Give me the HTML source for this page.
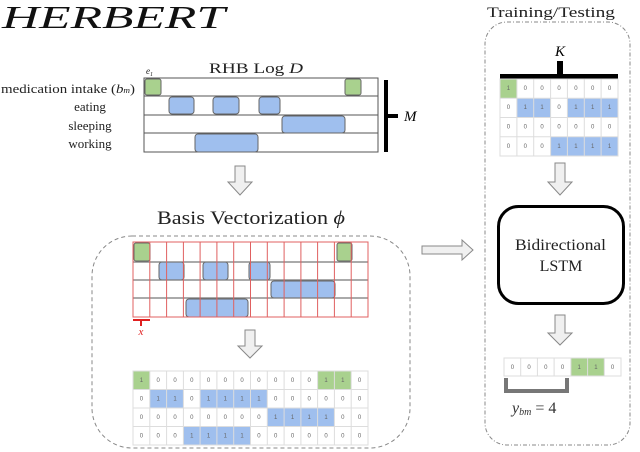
<!DOCTYPE html>
<html><head><meta charset="utf-8"><style>html,body{margin:0;padding:0;background:#fff}svg{display:block}</style></head>
<body>
<svg width="640" height="452" viewBox="0 0 640 452" xmlns="http://www.w3.org/2000/svg" font-family="Liberation Serif, serif">
<text x="2" y="28" font-size="32" font-style="italic" fill="#111" textLength="223" lengthAdjust="spacingAndGlyphs">HERBERT</text>
<text x="209" y="73" font-size="15" fill="#222" textLength="94" lengthAdjust="spacingAndGlyphs">RHB Log <tspan font-style="italic">D</tspan></text>
<text x="146" y="74" font-size="9" font-style="italic" fill="#222">e<tspan font-size="6" dy="2">1</tspan></text>
<g font-size="13" fill="#222">
<text x="1" y="93" textLength="134" lengthAdjust="spacingAndGlyphs">medication intake (<tspan font-style="italic">b<tspan font-size="8">m</tspan></tspan>)</text>
<text x="90" y="111" text-anchor="middle">eating</text>
<text x="90" y="130" text-anchor="middle">sleeping</text>
<text x="90" y="148" text-anchor="middle">working</text>
</g>
<g stroke="#555" stroke-width="1" fill="#fff">
<rect x="144" y="78" width="234" height="18"/>
<rect x="144" y="96" width="234" height="19"/>
<rect x="144" y="115" width="234" height="18"/>
<rect x="144" y="133" width="234" height="19"/>
</g>
<g stroke="#666" stroke-width="1">
<rect x="145" y="79" width="16" height="16" rx="2" fill="#a9d18e"/>
<rect x="345" y="79" width="16" height="16" rx="2" fill="#a9d18e"/>
<rect x="169" y="97" width="25" height="17" rx="3" fill="#9fbfee"/>
<rect x="213" y="97" width="26" height="17" rx="3" fill="#9fbfee"/>
<rect x="259" y="97" width="21" height="17" rx="3" fill="#9fbfee"/>
<rect x="282" y="116" width="63" height="17" rx="3" fill="#9fbfee"/>
<rect x="195" y="134" width="63" height="18" rx="3" fill="#9fbfee"/>
</g>
<rect x="384" y="80" width="4" height="72" fill="#000"/>
<rect x="384" y="114" width="14" height="4" fill="#000"/>
<text x="404" y="121" font-size="15" font-style="italic">M</text>
<g fill="#f0f0f0" stroke="#888" stroke-width="1">
<path d="M235 166 H245 V182 H252 L240 195 L228 182 H235 Z"/>
<path d="M245 330 H255 V346 H262 L250 358 L238 346 H245 Z"/>
<path d="M555 163 H565 V182 H572 L560 195 L548 182 H555 Z"/>
<path d="M555 315 H565 V333 H572 L560 345 L548 333 H555 Z"/>
<path d="M422 246 H462 V240 L473 250 L462 260 V254 H422 Z"/>
</g>
<text x="157" y="224" font-size="19" fill="#222" textLength="188" lengthAdjust="spacingAndGlyphs">Basis Vectorization <tspan font-style="italic">ϕ</tspan></text>
<rect x="92" y="236" width="318" height="212" rx="40" fill="none" stroke="#888" stroke-dasharray="4,3"/>
<rect x="133" y="242" width="235" height="75" fill="#fff"/>
<g stroke="#666" stroke-width="1">
<rect x="134" y="243" width="16" height="18" rx="2" fill="#a9d18e"/>
<rect x="337" y="243" width="15" height="18" rx="2" fill="#a9d18e"/>
<rect x="159" y="262" width="25" height="18" rx="3" fill="#9fbfee"/>
<rect x="203" y="262" width="25" height="18" rx="3" fill="#9fbfee"/>
<rect x="249" y="262" width="21" height="18" rx="3" fill="#9fbfee"/>
<rect x="271" y="281" width="64" height="17" rx="3" fill="#9fbfee"/>
<rect x="186" y="299" width="62" height="18" rx="3" fill="#9fbfee"/>
</g>
<g stroke="#777" stroke-width="1.2">
<line x1="133" y1="262" x2="368" y2="262"/><line x1="133" y1="280" x2="368" y2="280"/><line x1="133" y1="298" x2="368" y2="298"/>
</g>
<g stroke="#e06060" stroke-width="1" fill="none">
<rect x="133" y="242" width="235" height="75"/>
<path d="M149.8 242V317M166.6 242V317M183.4 242V317M200.1 242V317M216.9 242V317M233.7 242V317M250.5 242V317M267.3 242V317M284.1 242V317M300.9 242V317M317.6 242V317M334.4 242V317M351.2 242V317"/>
</g>
<path d="M133 320 H150 M141 320 V326" stroke="#e02020" stroke-width="2"/>
<text x="141" y="335" font-size="11" font-style="italic" fill="#e02020" text-anchor="middle">x</text>
<g fill="#a9d18e"><rect x="133" y="371" width="16.8" height="18.5"/><rect x="317.6" y="371" width="33.6" height="18.5"/></g>
<g fill="#9fbfee">
<rect x="149.8" y="389.5" width="33.6" height="18.5"/><rect x="200.1" y="389.5" width="67.2" height="18.5"/>
<rect x="267.3" y="408" width="67.2" height="18.5"/>
<rect x="183.4" y="426.5" width="67.2" height="18.5"/>
</g>
<g stroke="#ddd" stroke-width="1" fill="none">
<rect x="133" y="371" width="235" height="74"/>
<path d="M133 389.5H368M133 408H368M133 426.5H368M149.8 371V445M166.6 371V445M183.4 371V445M200.1 371V445M216.9 371V445M233.7 371V445M250.5 371V445M267.3 371V445M284.1 371V445M300.9 371V445M317.6 371V445M334.4 371V445M351.2 371V445"/>
</g>
<g font-size="6" fill="#666" text-anchor="middle" font-family="Liberation Sans, sans-serif">
<text y="382"><tspan x="141.4">1</tspan><tspan x="158.2">0</tspan><tspan x="175">0</tspan><tspan x="191.8">0</tspan><tspan x="208.5">0</tspan><tspan x="225.3">0</tspan><tspan x="242.1">0</tspan><tspan x="258.9">0</tspan><tspan x="275.7">0</tspan><tspan x="292.5">0</tspan><tspan x="309.2">0</tspan><tspan x="326">1</tspan><tspan x="342.8">1</tspan><tspan x="359.6">0</tspan></text>
<text y="400.5"><tspan x="141.4">0</tspan><tspan x="158.2">1</tspan><tspan x="175">1</tspan><tspan x="191.8">0</tspan><tspan x="208.5">1</tspan><tspan x="225.3">1</tspan><tspan x="242.1">1</tspan><tspan x="258.9">1</tspan><tspan x="275.7">0</tspan><tspan x="292.5">0</tspan><tspan x="309.2">0</tspan><tspan x="326">0</tspan><tspan x="342.8">0</tspan><tspan x="359.6">0</tspan></text>
<text y="419"><tspan x="141.4">0</tspan><tspan x="158.2">0</tspan><tspan x="175">0</tspan><tspan x="191.8">0</tspan><tspan x="208.5">0</tspan><tspan x="225.3">0</tspan><tspan x="242.1">0</tspan><tspan x="258.9">0</tspan><tspan x="275.7">1</tspan><tspan x="292.5">1</tspan><tspan x="309.2">1</tspan><tspan x="326">1</tspan><tspan x="342.8">0</tspan><tspan x="359.6">0</tspan></text>
<text y="437.5"><tspan x="141.4">0</tspan><tspan x="158.2">0</tspan><tspan x="175">0</tspan><tspan x="191.8">1</tspan><tspan x="208.5">1</tspan><tspan x="225.3">1</tspan><tspan x="242.1">1</tspan><tspan x="258.9">0</tspan><tspan x="275.7">0</tspan><tspan x="292.5">0</tspan><tspan x="309.2">0</tspan><tspan x="326">0</tspan><tspan x="342.8">0</tspan><tspan x="359.6">0</tspan></text>
</g>
<text x="487" y="17" font-size="15" fill="#222" textLength="128" lengthAdjust="spacingAndGlyphs">Training/Testing</text>
<rect x="485" y="22" width="145" height="423" rx="22" fill="none" stroke="#888" stroke-dasharray="4,2,1,2"/>
<text x="560" y="56" font-size="15" font-style="italic" text-anchor="middle">K</text>
<rect x="557" y="61" width="6" height="14" fill="#000"/>
<rect x="500" y="74" width="118" height="5" fill="#000"/>
<rect x="500" y="79" width="17" height="19" fill="#a9d18e"/>
<g fill="#9fbfee"><rect x="516.9" y="98.3" width="33.7" height="19.3"/><rect x="567.4" y="98.3" width="50.6" height="19.3"/><rect x="550.6" y="136.8" width="67.4" height="19.2"/></g>
<g stroke="#ddd" fill="none">
<rect x="500" y="79" width="118" height="77"/>
<path d="M500 98.3H618M500 117.5H618M500 136.8H618M516.9 79V156M533.7 79V156M550.6 79V156M567.4 79V156M584.3 79V156M601.1 79V156"/>
</g>
<g font-size="6" fill="#666" text-anchor="middle" font-family="Liberation Sans, sans-serif">
<text y="90"><tspan x="508.4">1</tspan><tspan x="525.3">0</tspan><tspan x="542.1">0</tspan><tspan x="559">0</tspan><tspan x="575.9">0</tspan><tspan x="592.7">0</tspan><tspan x="609.6">0</tspan></text>
<text y="109"><tspan x="508.4">0</tspan><tspan x="525.3">1</tspan><tspan x="542.1">1</tspan><tspan x="559">0</tspan><tspan x="575.9">1</tspan><tspan x="592.7">1</tspan><tspan x="609.6">1</tspan></text>
<text y="128.5"><tspan x="508.4">0</tspan><tspan x="525.3">0</tspan><tspan x="542.1">0</tspan><tspan x="559">0</tspan><tspan x="575.9">0</tspan><tspan x="592.7">0</tspan><tspan x="609.6">0</tspan></text>
<text y="148"><tspan x="508.4">0</tspan><tspan x="525.3">0</tspan><tspan x="542.1">0</tspan><tspan x="559">1</tspan><tspan x="575.9">1</tspan><tspan x="592.7">1</tspan><tspan x="609.6">1</tspan></text>
</g>
<rect x="498.5" y="206.5" width="125" height="97" rx="20" fill="#fff" stroke="#000" stroke-width="3"/>
<text x="515" y="250" font-size="16" fill="#222" textLength="91" lengthAdjust="spacingAndGlyphs">Bidirectional</text>
<text x="561" y="271" font-size="16" text-anchor="middle" fill="#222">LSTM</text>
<rect x="571" y="358" width="33.4" height="18" fill="#a9d18e"/>
<g stroke="#ddd" fill="none">
<rect x="504" y="358" width="117" height="18"/>
<path d="M520.7 358V376M537.4 358V376M554.1 358V376M570.9 358V376M587.6 358V376M604.3 358V376"/>
</g>
<g font-size="6" fill="#666" text-anchor="middle" font-family="Liberation Sans, sans-serif">
<text y="369"><tspan x="512.4">0</tspan><tspan x="529.1">0</tspan><tspan x="545.8">0</tspan><tspan x="562.5">0</tspan><tspan x="579.2">1</tspan><tspan x="595.9">1</tspan><tspan x="612.6">0</tspan></text>
</g>
<path d="M506 378 V391 H567 V378" fill="none" stroke="#777" stroke-width="4"/>
<text x="512" y="413" font-size="16" font-style="italic" fill="#333">y<tspan font-size="10" dy="2">bm</tspan><tspan dy="-2" font-style="normal"> = 4</tspan></text>
</svg>
</body></html>
